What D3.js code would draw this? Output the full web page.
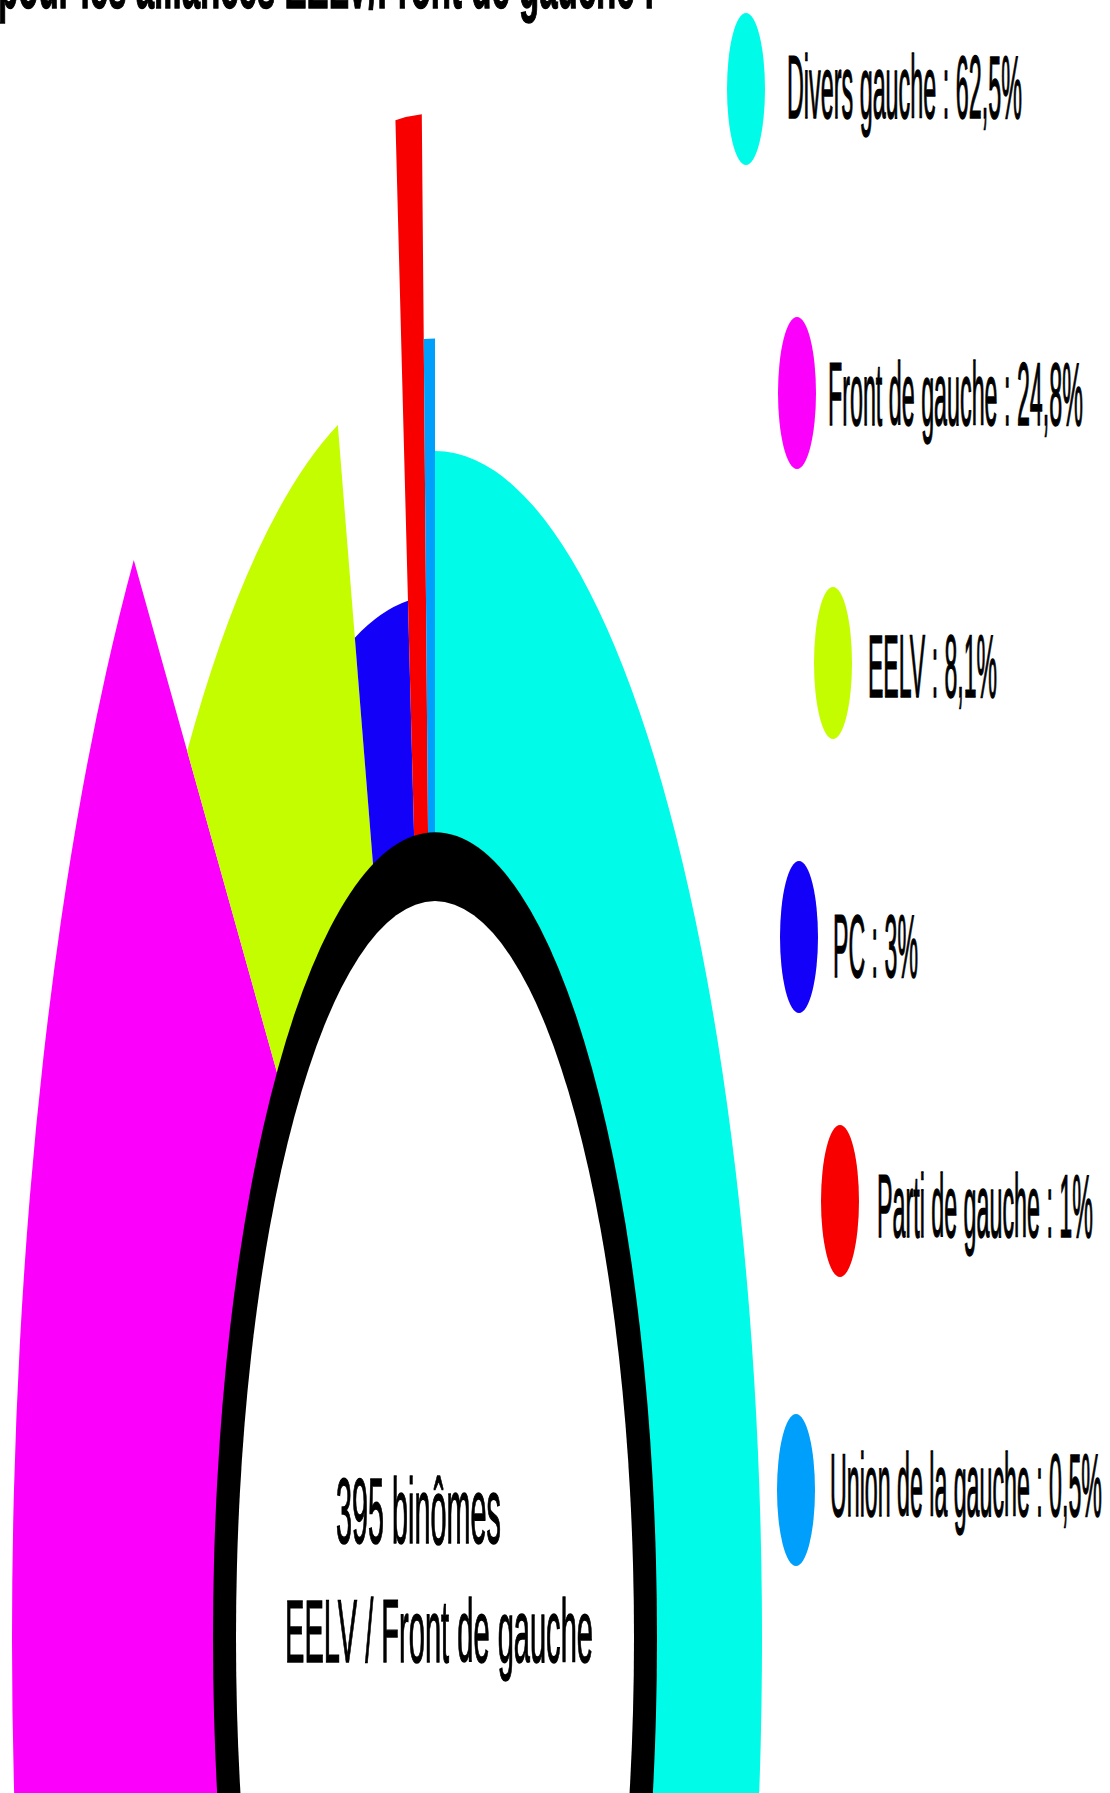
<!DOCTYPE html>
<html>
<head>
<meta charset="utf-8">
<script src="https://cdn.jsdelivr.net/npm/d3@7"></script>
<style>
  html, body { margin: 0; padding: 0; background: #ffffff; }
  svg { display: block; }
  text { font-family: "Liberation Sans", Arial, sans-serif; fill: #000; stroke: #000; stroke-width: 1.1; vector-effect: non-scaling-stroke; }
</style>
</head>
<body>
<script>
// ---- data ----
const categories = ["Divers gauche", "Front de gauche", "EELV", "PC", "Parti de gauche", "Union de la gauche"];
const shares = [62.5, 24.8, 8.1, 3, 1, 0.5];
// radial extent of each petal (relative units)
const radialValues = [32.7, 42.3, 34.8, 28.7, 42.0, 35.8];
const colors = ["#00fbe8", "#fb00fb", "#c4fc00", "#1200f8", "#f80000", "#009ffc"];
const titleText = "pour les alliances EELV/Front de gauche :";
const centerLines = ["395 binômes", "EELV / Front de gauche"];

// ---- layout ----
const W = 1110, H = 1793;
const cx = 435, cy = 1638, ky = 3.63;      // picture is stretched vertically
const ringOuter = 222, holeRx = 199, holeRy = 203;

const legendLayout = [
  {ex: 746, ey: 89,   tx: 787, ty: 118,  tw: 235},
  {ex: 797, ey: 393,  tx: 828, ty: 425,  tw: 255},
  {ex: 833, ey: 663,  tx: 868, ty: 697,  tw: 129},
  {ex: 799, ey: 937,  tx: 833, ty: 977,  tw: 85},
  {ex: 840, ey: 1201, tx: 877, ty: 1237, tw: 216},
  {ex: 796, ey: 1490, tx: 830, ty: 1516, tw: 272}
];

const svg = d3.select("body").append("svg")
  .attr("width", W).attr("height", H)
  .attr("viewBox", `0 0 ${W} ${H}`);

svg.append("rect").attr("width", W).attr("height", H).attr("fill", "#fff");

const rScale = d3.scaleLinear().domain([0, 10]).range([0, 100]);

const data = categories.map((c, i) => ({name: c, value: shares[i], r: radialValues[i], color: colors[i]}));
const pie = d3.pie().value(d => d.value).sort(null);
const arcs = pie(data);

const chart = svg.append("g")
  .attr("transform", `translate(${cx},${cy}) scale(1,${ky})`);

const arc = d3.arc()
  .innerRadius(ringOuter - 1)
  .outerRadius(d => rScale(d.data.r));

chart.selectAll("path.slice")
  .data(arcs)
  .join("path")
  .attr("class", "slice")
  .attr("d", arc)
  .attr("fill", d => d.data.color);

// black ring with white hole
chart.append("circle").attr("r", ringOuter).attr("fill", "#000");
chart.append("ellipse").attr("rx", holeRx).attr("ry", holeRy).attr("fill", "#fff");

// stretched text: width tw, cap height cap, baseline at (tx, ty)
function stretchedText(parent, str, tx, ty, tw, cap, bold) {
  const t = parent.append("text")
    .attr("x", 0).attr("y", 0)
    .attr("font-size", 20)
    .attr("font-weight", bold ? "bold" : "normal")
    .text(str);
  const w0 = t.node().getComputedTextLength();
  const fs = 20 * tw / w0;
  const sy = cap / (0.716 * fs);
  t.attr("font-size", fs)
   .attr("transform", `translate(${tx},${ty}) scale(1,${sy})`);
  return t;
}

// title (cut at top)
stretchedText(svg, titleText, -2, 8, 657, 51, true);

// legend
const fmt = v => String(v).replace(".", ",") + "%";
const leg = svg.append("g");
legendLayout.forEach((p, i) => {
  leg.append("ellipse")
    .attr("cx", p.ex).attr("cy", p.ey)
    .attr("rx", 19).attr("ry", 76)
    .attr("fill", colors[i]);
  stretchedText(leg, categories[i] + " : " + fmt(shares[i]), p.tx, p.ty, p.tw, 64, false);
});

// center text
stretchedText(svg, centerLines[0], 336, 1543, 165, 67, false);
stretchedText(svg, centerLines[1], 285, 1662, 308, 64, false);
</script>
</body>
</html>
